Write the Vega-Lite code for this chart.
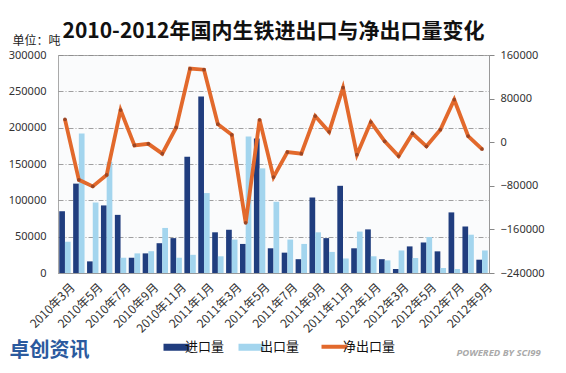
{
  "$schema": "https://vega.github.io/schema/vega-lite/v6.json",
  "width": 431,
  "height": 218,
  "autosize": "none",
  "padding": {"left": 58, "top": 55, "right": 77, "bottom": 100},
  "background": "#ffffff",
  "title": {
    "text": "2010-2012年国内生铁进出口与净出口量变化",
    "font": "Noto Sans CJK SC",
    "fontSize": 21,
    "fontWeight": "bold",
    "color": "#111111",
    "anchor": "middle",
    "offset": -8
  },
  "config": {
    "view": {"fill": "#fafbfc", "stroke": "#aaaaaa", "strokeWidth": 1},
    "axis": {"labelFont": "Noto Sans", "titleFont": "Noto Sans CJK SC", "labelColor": "#333333"}
  },
  "datasets": {
    "rows": [
      {"month": "2010年3月", "series": "进口量", "value": 85000},
      {"month": "2010年3月", "series": "出口量", "value": 43000},
      {"month": "2010年3月", "series": "净出口量", "value": 42000},
      {"month": "2010年4月", "series": "进口量", "value": 123000},
      {"month": "2010年4月", "series": "出口量", "value": 192000},
      {"month": "2010年4月", "series": "净出口量", "value": -69000},
      {"month": "2010年5月", "series": "进口量", "value": 16000},
      {"month": "2010年5月", "series": "出口量", "value": 97000},
      {"month": "2010年5月", "series": "净出口量", "value": -81000},
      {"month": "2010年6月", "series": "进口量", "value": 93000},
      {"month": "2010年6月", "series": "出口量", "value": 153000},
      {"month": "2010年6月", "series": "净出口量", "value": -60000},
      {"month": "2010年7月", "series": "进口量", "value": 80000},
      {"month": "2010年7月", "series": "出口量", "value": 21000},
      {"month": "2010年7月", "series": "净出口量", "value": 59000},
      {"month": "2010年8月", "series": "进口量", "value": 21000},
      {"month": "2010年8月", "series": "出口量", "value": 27000},
      {"month": "2010年8月", "series": "净出口量", "value": -6000},
      {"month": "2010年9月", "series": "进口量", "value": 27000},
      {"month": "2010年9月", "series": "出口量", "value": 30000},
      {"month": "2010年9月", "series": "净出口量", "value": -3000},
      {"month": "2010年10月", "series": "进口量", "value": 41000},
      {"month": "2010年10月", "series": "出口量", "value": 62000},
      {"month": "2010年10月", "series": "净出口量", "value": -21000},
      {"month": "2010年11月", "series": "进口量", "value": 48000},
      {"month": "2010年11月", "series": "出口量", "value": 21000},
      {"month": "2010年11月", "series": "净出口量", "value": 27000},
      {"month": "2010年12月", "series": "进口量", "value": 160000},
      {"month": "2010年12月", "series": "出口量", "value": 25000},
      {"month": "2010年12月", "series": "净出口量", "value": 135000},
      {"month": "2011年1月", "series": "进口量", "value": 243000},
      {"month": "2011年1月", "series": "出口量", "value": 110000},
      {"month": "2011年1月", "series": "净出口量", "value": 133000},
      {"month": "2011年2月", "series": "进口量", "value": 56000},
      {"month": "2011年2月", "series": "出口量", "value": 23000},
      {"month": "2011年2月", "series": "净出口量", "value": 33000},
      {"month": "2011年3月", "series": "进口量", "value": 59500},
      {"month": "2011年3月", "series": "出口量", "value": 46000},
      {"month": "2011年3月", "series": "净出口量", "value": 13500},
      {"month": "2011年4月", "series": "进口量", "value": 40000},
      {"month": "2011年4月", "series": "出口量", "value": 188000},
      {"month": "2011年4月", "series": "净出口量", "value": -148000},
      {"month": "2011年5月", "series": "进口量", "value": 185000},
      {"month": "2011年5月", "series": "出口量", "value": 144000},
      {"month": "2011年5月", "series": "净出口量", "value": 41000},
      {"month": "2011年6月", "series": "进口量", "value": 34000},
      {"month": "2011年6月", "series": "出口量", "value": 98000},
      {"month": "2011年6月", "series": "净出口量", "value": -64000},
      {"month": "2011年7月", "series": "进口量", "value": 28000},
      {"month": "2011年7月", "series": "出口量", "value": 46000},
      {"month": "2011年7月", "series": "净出口量", "value": -18000},
      {"month": "2011年8月", "series": "进口量", "value": 19000},
      {"month": "2011年8月", "series": "出口量", "value": 40000},
      {"month": "2011年8月", "series": "净出口量", "value": -21000},
      {"month": "2011年9月", "series": "进口量", "value": 104000},
      {"month": "2011年9月", "series": "出口量", "value": 56000},
      {"month": "2011年9月", "series": "净出口量", "value": 48000},
      {"month": "2011年10月", "series": "进口量", "value": 48000},
      {"month": "2011年10月", "series": "出口量", "value": 29000},
      {"month": "2011年10月", "series": "净出口量", "value": 19000},
      {"month": "2011年11月", "series": "进口量", "value": 120000},
      {"month": "2011年11月", "series": "出口量", "value": 20000},
      {"month": "2011年11月", "series": "净出口量", "value": 100000},
      {"month": "2011年12月", "series": "进口量", "value": 34000},
      {"month": "2011年12月", "series": "出口量", "value": 57000},
      {"month": "2011年12月", "series": "净出口量", "value": -23000},
      {"month": "2012年1月", "series": "进口量", "value": 60000},
      {"month": "2012年1月", "series": "出口量", "value": 23000},
      {"month": "2012年1月", "series": "净出口量", "value": 37000},
      {"month": "2012年2月", "series": "进口量", "value": 19000},
      {"month": "2012年2月", "series": "出口量", "value": 17400},
      {"month": "2012年2月", "series": "净出口量", "value": 1600},
      {"month": "2012年3月", "series": "进口量", "value": 5500},
      {"month": "2012年3月", "series": "出口量", "value": 31000},
      {"month": "2012年3月", "series": "净出口量", "value": -25500},
      {"month": "2012年4月", "series": "进口量", "value": 36600},
      {"month": "2012年4月", "series": "出口量", "value": 20600},
      {"month": "2012年4月", "series": "净出口量", "value": 16000},
      {"month": "2012年5月", "series": "进口量", "value": 42000},
      {"month": "2012年5月", "series": "出口量", "value": 49500},
      {"month": "2012年5月", "series": "净出口量", "value": -7500},
      {"month": "2012年6月", "series": "进口量", "value": 29800},
      {"month": "2012年6月", "series": "出口量", "value": 6900},
      {"month": "2012年6月", "series": "净出口量", "value": 22900},
      {"month": "2012年7月", "series": "进口量", "value": 83400},
      {"month": "2012年7月", "series": "出口量", "value": 5500},
      {"month": "2012年7月", "series": "净出口量", "value": 77900},
      {"month": "2012年8月", "series": "进口量", "value": 64000},
      {"month": "2012年8月", "series": "出口量", "value": 52700},
      {"month": "2012年8月", "series": "净出口量", "value": 11300},
      {"month": "2012年9月", "series": "进口量", "value": 18300},
      {"month": "2012年9月", "series": "出口量", "value": 31000},
      {"month": "2012年9月", "series": "净出口量", "value": -12700}
    ]
  },
  "data": {"name": "rows"},
  "encoding": {
    "x": {
      "field": "month",
      "type": "ordinal",
      "sort": null,
      "scale": {"paddingInner": 0.18, "paddingOuter": 0.09},
      "axis": {
        "values": ["2010年3月", "2010年5月", "2010年7月", "2010年9月", "2010年11月", "2011年1月", "2011年3月", "2011年5月", "2011年7月", "2011年9月", "2011年11月", "2012年1月", "2012年3月", "2012年5月", "2012年7月", "2012年9月"],
        "labelAngle": -45,
        "labelAlign": "right",
        "labelBaseline": "middle",
        "labelFont": "Noto Sans CJK SC",
        "labelFontSize": 12,
        "labelPadding": 12,
        "labelOffset": 8,
        "ticks": false,
        "domainColor": "#999999",
        "title": "卓创资讯",
        "titleFont": "Noto Sans CJK SC",
        "titleFontSize": 20,
        "titleFontWeight": "bold",
        "titleColor": "#2B5A9E",
        "titleAlign": "left",
        "titleBaseline": "middle",
        "titleAnchor": "start",
        "titleX": -49,
        "titleY": 77
      }
    }
  },
  "layer": [
    {
      "transform": [{"filter": "datum.series !== '净出口量'"}],
      "mark": {"type": "bar"},
      "encoding": {
        "xOffset": {"field": "series", "type": "nominal", "sort": ["进口量", "出口量"], "scale": {"paddingInner": 0}},
        "y": {
          "field": "value",
          "type": "quantitative",
          "scale": {"domain": [0, 300000], "nice": false},
          "axis": {
            "values": [0, 50000, 100000, 150000, 200000, 250000, 300000],
            "format": "d",
            "labelFontSize": 11,
            "labelPadding": 12,
            "ticks": false,
            "domain": false,
            "grid": true,
            "gridColor": "#888888",
            "gridDash": [5, 2, 1, 2],
            "gridWidth": 0.8,
            "title": "单位：吨",
            "titleAngle": 0,
            "titleAlign": "left",
            "titleBaseline": "middle",
            "titleFontSize": 12,
            "titleFontWeight": "normal",
            "titleColor": "#222222",
            "titleX": -46,
            "titleY": -15
          }
        },
        "color": {
          "field": "series",
          "type": "nominal",
          "scale": {"domain": ["进口量", "出口量", "净出口量"], "range": ["#203D7E", "#A3D5EE", "#E2692C"]},
          "legend": {
            "orient": "none",
            "legendX": 112,
            "legendY": 285,
            "direction": "horizontal",
            "title": null,
            "labelFont": "Noto Sans CJK SC",
            "labelFontSize": 13,
            "labelColor": "#111111",
            "labelOffset": 2,
            "columnPadding": 13,
            "symbolSize": 676,
            "encode": {
              "symbols": {
                "update": {
                  "shape": {"signal": "datum.value === '净出口量' ? 'stroke' : 'M-1,-0.27H1V0.27H-1Z'"},
                  "fill": {"scale": "color", "field": "value"},
                  "stroke": {"scale": "color", "field": "value"},
                  "strokeWidth": {"signal": "datum.value === '净出口量' ? 4 : 0"},
                  "opacity": {"value": 1}
                }
              }
            }
          }
        }
      }
    },
    {
      "transform": [{"filter": "datum.series === '净出口量'"}],
      "layer": [
        {
          "mark": {"type": "line", "strokeWidth": 3.8},
          "encoding": {
            "y": {
              "field": "value",
              "type": "quantitative",
              "scale": {"domain": [-240000, 160000], "nice": false},
              "axis": {
                "orient": "right",
                "values": [-240000, -160000, -80000, 0, 80000, 160000],
                "format": "d",
                "labelFontSize": 11,
                "labelPadding": 6,
                "ticks": true,
                "tickSize": 5,
                "tickColor": "#888888",
                "domainColor": "#999999",
                "grid": false,
                "title": "POWERED BY SCI99",
                "titleFont": "Open Sans",
                "titleAngle": 0,
                "titleAlign": "left",
                "titleBaseline": "middle",
                "titleFontSize": 9.5,
                "titleFontWeight": "bold",
                "titleFontStyle": "italic",
                "titleColor": "#AAAAAA",
                "titleX": -33,
                "titleY": 297
              }
            },
            "color": {"field": "series", "type": "nominal"}
          }
        },
        {
          "mark": {"type": "point", "filled": true, "size": 14, "color": "#9C4624", "opacity": 1},
          "encoding": {
            "y": {"field": "value", "type": "quantitative"}
          }
        }
      ]
    }
  ],
  "resolve": {"scale": {"y": "independent"}}
}
